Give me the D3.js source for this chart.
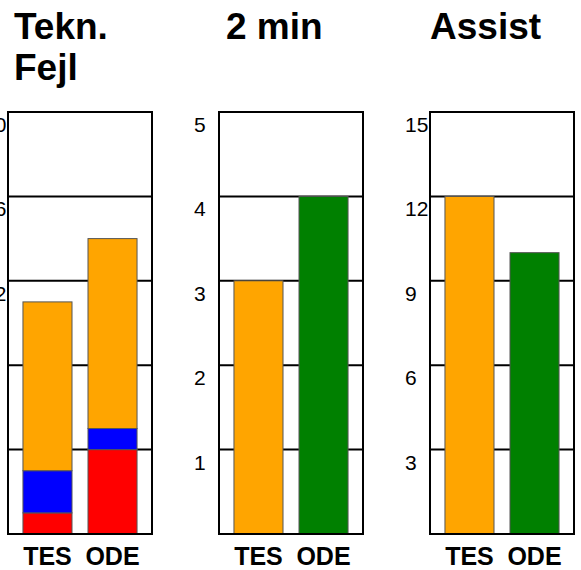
<!DOCTYPE html>
<html>
<head>
<meta charset="utf-8">
<script src="https://cdn.jsdelivr.net/npm/d3@7"></script>
<style>
  body { margin: 0; background: #fff; }
  svg { display: block; font-family: Arial, "Liberation Sans", Helvetica, sans-serif; }
</style>
</head>
<body>
<div id="chart"></div>
<script>
// Chart data
var categories = ["TES", "ODE"];

// Tekn. Fejl is stacked: red at bottom, then blue, then orange
var teknRed = [1, 4];
var teknBlue = [2, 1];
var teknOrange = [8, 9];
var teknTicks = [4, 8, 12, 16, 20];

var twoMin = [3, 4];
var twoMinTicks = [1, 2, 3, 4, 5];

var assist = [12, 10];
var assistTicks = [3, 6, 9, 12, 15];

var svgWidth = 581;
var svgHeight = 570;

var plotTop = 112;
var plotBottom = 534;
var plotWidth = 144;

var svg = d3.select("#chart")
 .append("svg")
 .attr("width", svgWidth)
 .attr("height", svgHeight);

function drawPanel(left, titleX, titleLines, ticks, layers) {
    var g = svg.append("g");

    var xScale = d3.scaleBand()
     .domain(categories)
     .range([left, left + plotWidth])
     .paddingInner(0.246)
     .paddingOuter(0.23);

    var yScale = d3.scaleLinear()
     .domain([0, d3.max(ticks)])
     .range([plotBottom, plotTop]);

    // gridlines behind bars
    g.selectAll(".grid")
     .data(ticks)
     .enter()
     .append("line")
     .attr("x1", left)
     .attr("x2", left + plotWidth)
     .attr("y1", d => yScale(d))
     .attr("y2", d => yScale(d))
     .attr("stroke", "#000")
     .attr("stroke-width", 2);

    // tick labels, sitting just under each gridline
    g.selectAll(".tick")
     .data(ticks)
     .enter()
     .append("text")
     .attr("x", left - 25)
     .attr("y", d => yScale(d) + 20)
     .attr("font-size", 21)
     .attr("fill", "#000")
     .text(d => d);

    // bars (stacked layers)
    layers.forEach(function(layer) {
        g.selectAll(null)
         .data(categories)
         .enter()
         .append("rect")
         .attr("x", d => xScale(d))
         .attr("width", xScale.bandwidth())
         .attr("y", (d, i) => yScale(layer.base[i] + layer.values[i]))
         .attr("height", (d, i) => yScale(layer.base[i]) - yScale(layer.base[i] + layer.values[i]))
         .attr("fill", (d, i) => layer.colors[i])
         .attr("stroke", "#555")
         .attr("stroke-width", 1);
    });

    // frame
    g.append("rect")
     .attr("x", left)
     .attr("y", plotTop)
     .attr("width", plotWidth)
     .attr("height", plotBottom - plotTop)
     .attr("fill", "none")
     .attr("stroke", "#000")
     .attr("stroke-width", 2);

    // category labels
    g.selectAll(".cat")
     .data(categories)
     .enter()
     .append("text")
     .attr("x", d => xScale(d) + xScale.bandwidth() / 2)
     .attr("y", 565)
     .attr("text-anchor", "middle")
     .attr("font-size", 25)
     .attr("font-weight", "bold")
     .text(d => d);

    // title
    var title = g.append("text")
     .attr("x", titleX)
     .attr("y", 39)
     .attr("font-size", 37)
     .attr("font-weight", "bold");
    titleLines.forEach(function(line, i) {
        title.append("tspan")
         .attr("x", titleX)
         .attr("dy", i === 0 ? 0 : 41)
         .text(line);
    });
}

var zeros = [0, 0];

drawPanel(8, 14, ["Tekn.", "Fejl"], teknTicks, [
    { base: zeros, values: teknRed, colors: ["#ff0000", "#ff0000"] },
    { base: teknRed, values: teknBlue, colors: ["#0000ff", "#0000ff"] },
    { base: teknRed.map((d, i) => d + teknBlue[i]), values: teknOrange, colors: ["#ffa500", "#ffa500"] }
]);

drawPanel(219, 226, ["2 min"], twoMinTicks, [
    { base: zeros, values: twoMin, colors: ["#ffa500", "#008000"] }
]);

drawPanel(430, 430, ["Assist"], assistTicks, [
    { base: zeros, values: assist, colors: ["#ffa500", "#008000"] }
]);
</script>
</body>
</html>
